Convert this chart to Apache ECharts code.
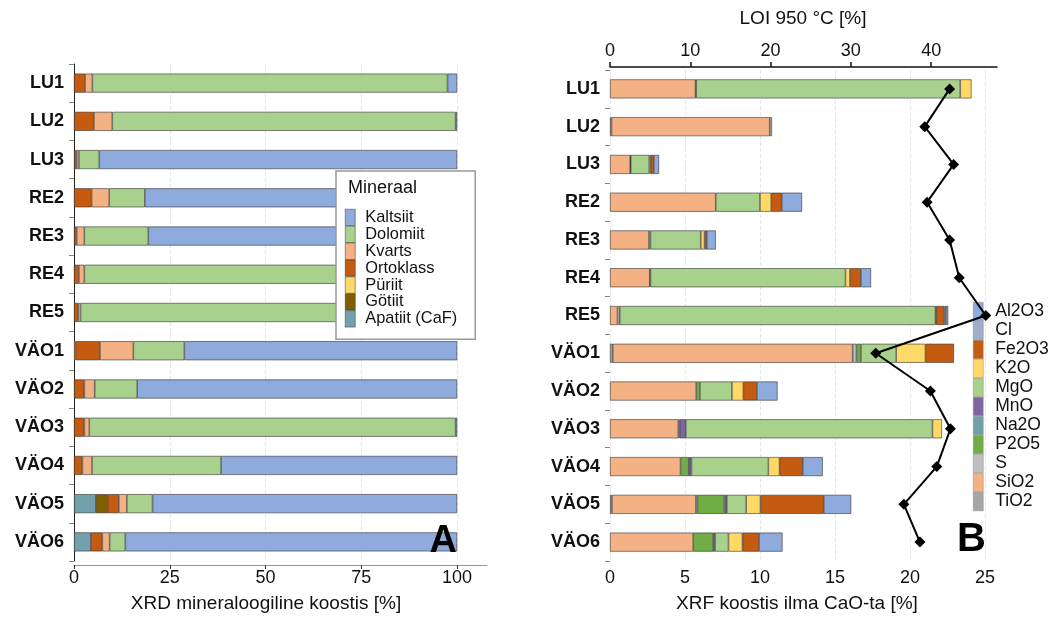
<!DOCTYPE html>
<html>
<head>
<meta charset="utf-8">
<script src="https://cdn.jsdelivr.net/npm/echarts@6/dist/echarts.min.js"></script>
<style>
  html, body { margin: 0; padding: 0; background: #fff; }
  #chart { width: 1057px; height: 617px; }
</style>
</head>
<body>
<div id="chart"></div>
<script>
// proovid
var samples = ['LU1', 'LU2', 'LU3', 'RE2', 'RE3', 'RE4', 'RE5', 'VÄO1', 'VÄO2', 'VÄO3', 'VÄO4', 'VÄO5', 'VÄO6'];

// A: XRD mineraalid (virnas vasakult paremale)
var apatiit   = [0, 0, 0, 0, 0, 0, 0, 0, 0, 0, 0, 5.7, 4.4];
var gotiit    = [0, 0, 0, 0, 0, 0, 0, 0, 0, 0, 0, 3.1, 0];
var puriit    = [0, 0, 0, 0, 0, 0, 0, 0.4, 0, 0, 0, 0, 0];
var ortoklass = [2.9, 5.2, 0.7, 4.6, 0.7, 1.3, 1.1, 6.4, 2.7, 2.7, 2.2, 2.9, 3.0];
var kvarts    = [1.9, 4.8, 0.6, 4.6, 2.0, 1.4, 0.6, 8.7, 2.7, 1.3, 2.5, 2.1, 1.9];
var dolomiit  = [92.7, 89.6, 5.3, 9.3, 16.7, 97.3, 98.3, 13.3, 11.1, 95.6, 33.7, 6.7, 4.1];
var kaltsiit  = [2.5, 0.4, 93.4, 81.5, 80.6, 0, 0, 71.2, 83.5, 0.4, 61.6, 79.5, 86.6];

// B: XRF oksiidid ilma CaO-ta
var tio2  = [0, 0.1, 0, 0, 0, 0, 0, 0.18, 0, 0, 0, 0.13, 0];
var sio2  = [5.7, 10.55, 1.35, 7.05, 2.6, 2.65, 0.5, 16.0, 5.75, 4.55, 4.7, 5.6, 5.55];
var s     = [0.05, 0.15, 0.03, 0, 0.1, 0.05, 0.15, 0.25, 0, 0.1, 0, 0.1, 0];
var p2o5  = [0, 0, 0, 0, 0, 0, 0, 0.3, 0.25, 0, 0.55, 1.8, 1.33];
var na2o  = [0, 0, 0, 0, 0, 0, 0, 0, 0, 0, 0, 0, 0];
var mno   = [0, 0, 0, 0, 0, 0, 0, 0, 0, 0.4, 0.18, 0.16, 0.13];
var mgo   = [17.6, 0, 1.24, 2.95, 3.35, 13.0, 21.05, 2.35, 2.13, 16.45, 5.13, 1.29, 0.89];
var k2o   = [0.75, 0, 0.1, 0.75, 0.25, 0.3, 0.05, 1.95, 0.76, 0.63, 0.74, 0.95, 0.93];
var fe2o3 = [0, 0, 0.2, 0.7, 0.15, 0.73, 0.55, 1.9, 0.91, 0, 1.55, 4.22, 1.11];
var cl    = [0, 0, 0, 0, 0, 0, 0.1, 0, 0, 0, 0, 0, 0];
var al2o3 = [0, 0, 0.35, 1.35, 0.6, 0.67, 0.15, 0, 1.37, 0, 1.33, 1.83, 1.56];

// LOI 950 °C
var loi = [42.3, 39.2, 42.8, 39.5, 42.3, 43.5, 46.8, 33.1, 39.9, 42.4, 40.7, 36.6, 38.6];

var xrdTicks = [0, 25, 50, 75, 100];
var xrfTicks = [0, 5, 10, 15, 20, 25];
var loiTicks = [0, 10, 20, 30, 40];

var FONT = 'Liberation Sans, Arial, sans-serif';

var myChart = echarts.init(document.getElementById('chart'));

function nz(arr) {
    return arr.map(function (v) { return v ? v : '-'; });
}

function barA(name, data, color) {
    return {
        name: name, type: 'bar', stack: 'xrd',
        xAxisIndex: 0, yAxisIndex: 0,
        barWidth: 19,
        itemStyle: { color: color, borderColor: '#333', borderWidth: 0.6 },
        data: nz(data)
    };
}
function barB(name, data, color) {
    return {
        name: name, type: 'bar', stack: 'xrf',
        xAxisIndex: 1, yAxisIndex: 1,
        barWidth: 19,
        itemStyle: { color: color, borderColor: '#333', borderWidth: 0.6 },
        data: nz(data)
    };
}

var catAxis = {
    type: 'category',
    data: samples,
    inverse: true,
    axisLine: { show: true, lineStyle: { color: '#222', width: 1 } },
    axisTick: { show: true, length: 5, lineStyle: { color: '#888' } },
    axisLabel: { fontFamily: FONT, fontSize: 18, fontWeight: 'bold', color: '#111', margin: 10 }
};

var option = {
    animation: false,
    backgroundColor: '#fff',
    grid: [
        { left: 74, right: 570, top: 64, bottom: 56 },
        { left: 610, right: 60, top: 70, bottom: 56 }
    ],
    xAxis: [
        {
            type: 'value', gridIndex: 0, min: 0, max: 107.8, offset: 4,
            axisLine: { show: true, lineStyle: { color: '#999' } },
            axisTick: { show: true, length: 4, lineStyle: { color: '#333' }, customValues: xrdTicks },
            axisLabel: { fontFamily: FONT, fontSize: 18, color: '#111', margin: 4, customValues: xrdTicks },
            splitLine: { show: true, lineStyle: { color: '#e6e6e6', type: 'dashed' } }
        },
        {
            type: 'value', gridIndex: 1, min: 0, max: 25.8,
            axisLine: { show: false },
            axisTick: { show: false, customValues: xrfTicks },
            axisLabel: { fontFamily: FONT, fontSize: 18, color: '#111', margin: 8, customValues: xrfTicks },
            splitLine: { show: true, lineStyle: { color: '#e6e6e6', type: 'dashed' } }
        },
        {
            type: 'value', gridIndex: 1, position: 'top', min: 0, max: 48.2, offset: 3,
            axisLine: { show: true, lineStyle: { color: '#111', width: 1.5 } },
            axisTick: { show: true, length: 5, lineStyle: { color: '#111', width: 1.5 }, customValues: loiTicks },
            axisLabel: { fontFamily: FONT, fontSize: 18, color: '#111', margin: 7, customValues: loiTicks },
            splitLine: { show: false }
        }
    ],
    yAxis: [
        Object.assign({ gridIndex: 0 }, catAxis),
        Object.assign({}, catAxis, { gridIndex: 1, axisLine: { show: false } })
    ],
    legend: [
        {
            data: ['Kaltsiit', 'Dolomiit', 'Kvarts', 'Ortoklass', 'Püriit', 'Götiit', 'Apatiit (CaF)'],
            orient: 'vertical',
            left: 336, top: 171,
            padding: [38, 18, 12, 9],
            itemGap: 0, itemWidth: 10, itemHeight: 16.4,
            icon: 'rect',
            backgroundColor: '#fff',
            borderColor: '#999', borderWidth: 1.5,
            itemStyle: { borderColor: '#333', borderWidth: 0.5 },
            textStyle: { fontFamily: FONT, fontSize: 16.4, color: '#111', lineHeight: 16.4, padding: [0, 0, 0, 5] },
            selectedMode: false
        },
        {
            data: ['Al2O3', 'Cl', 'Fe2O3', 'K2O', 'MgO', 'MnO', 'Na2O', 'P2O5', 'S', 'SiO2', 'TiO2'],
            orient: 'vertical',
            left: 973, top: 302,
            padding: 0,
            itemGap: 0, itemWidth: 10, itemHeight: 18.5,
            icon: 'rect',
            itemStyle: { borderColor: '#888', borderWidth: 0.5 },
            textStyle: { fontFamily: FONT, fontSize: 17.5, color: '#111', lineHeight: 18.5, padding: [0, 0, 0, 7] },
            selectedMode: false
        }
    ],
    title: [
        {
            text: 'Mineraal', left: 348, top: 179, padding: 0,
            textStyle: { fontFamily: FONT, fontSize: 18, fontWeight: 'normal', color: '#111' }
        }
    ],
    graphic: [
        { type: 'text', x: 266, y: 604, style: { text: 'XRD mineraloogiline koostis [%]', font: '19px ' + FONT, fill: '#111', textAlign: 'center', textVerticalAlign: 'middle' } },
        { type: 'text', x: 797, y: 604, style: { text: 'XRF koostis ilma CaO-ta [%]', font: '19px ' + FONT, fill: '#111', textAlign: 'center', textVerticalAlign: 'middle' } },
        { type: 'text', x: 803, y: 19, style: { text: 'LOI 950 °C [%]', font: '19px ' + FONT, fill: '#111', textAlign: 'center', textVerticalAlign: 'middle' } },
        { type: 'text', x: 457, y: 542, z: 10, style: { text: 'A', font: 'bold 38px ' + FONT, fill: '#000', textAlign: 'right', textVerticalAlign: 'middle' } },
        { type: 'text', x: 986, y: 540, z: 10, style: { text: 'B', font: 'bold 40px ' + FONT, fill: '#000', textAlign: 'right', textVerticalAlign: 'middle' } }
    ],
    series: [
        barA('Apatiit (CaF)', apatiit, '#72A1AD'),
        barA('Götiit', gotiit, '#7F6000'),
        barA('Püriit', puriit, '#FFD966'),
        barA('Ortoklass', ortoklass, '#C55A11'),
        barA('Kvarts', kvarts, '#F4B183'),
        barA('Dolomiit', dolomiit, '#A9D18E'),
        barA('Kaltsiit', kaltsiit, '#8FAADC'),

        barB('TiO2', tio2, '#A5A5A5'),
        barB('SiO2', sio2, '#F4B183'),
        barB('S', s, '#BFBFBF'),
        barB('P2O5', p2o5, '#70AD47'),
        barB('Na2O', na2o, '#71A0AA'),
        barB('MnO', mno, '#8064A2'),
        barB('MgO', mgo, '#A9D18E'),
        barB('K2O', k2o, '#FFD966'),
        barB('Fe2O3', fe2o3, '#C55A11'),
        barB('Cl', cl, '#9FAECB'),
        barB('Al2O3', al2o3, '#8FAADC'),
        {
            name: 'LOI', type: 'line',
            xAxisIndex: 2, yAxisIndex: 1,
            data: loi,
            clip: false,
            z: 6,
            symbol: 'diamond', symbolSize: 11,
            lineStyle: { color: '#000', width: 2 },
            itemStyle: { color: '#000' }
        }
    ]
};

myChart.setOption(option);
</script>
</body>
</html>
